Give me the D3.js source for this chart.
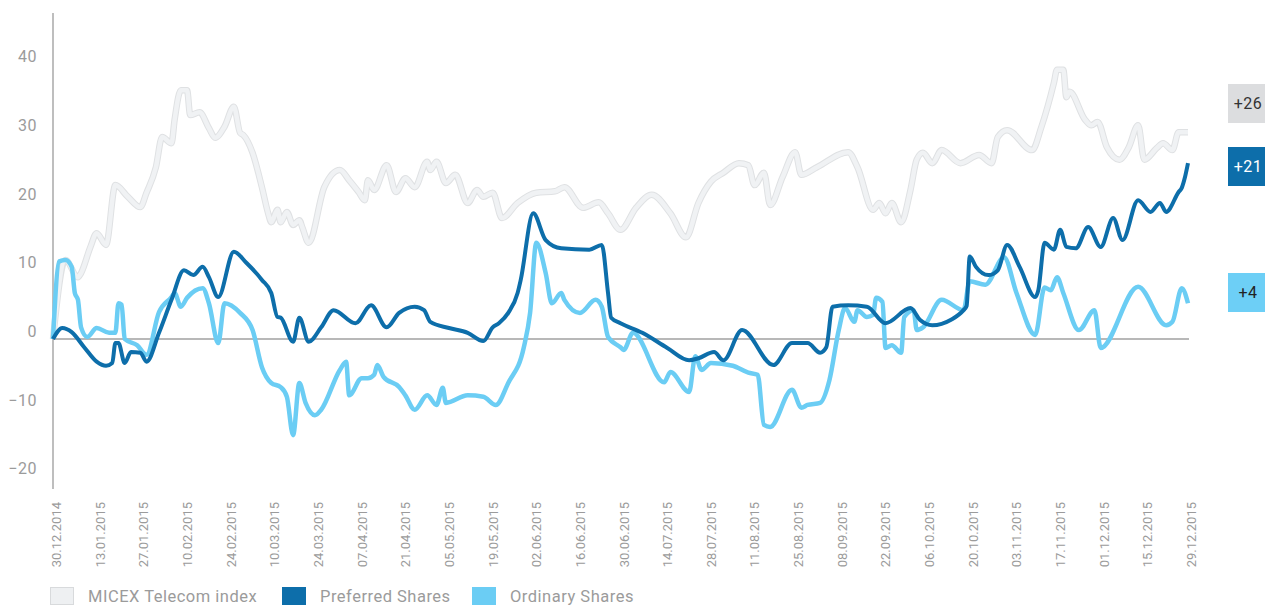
<!DOCTYPE html>
<html lang="en">
    <head>
        <meta charset="utf-8">
        <title>MICEX Telecom vs shares</title>
        <script type="text/javascript" src="https://cdn.jsdelivr.net/npm/d3@7"></script>
        <style>
            body { margin: 0; background: #fff; }
            text { font-family: Roboto, "Noto Sans", sans-serif; }
        </style>
    </head>
    <body>
        <script type="text/javascript">
            // tick labels
            var xTicks = ["30.12.2014", "13.01.2015", "27.01.2015", "10.02.2015", "24.02.2015",
                "10.03.2015", "24.03.2015", "07.04.2015", "21.04.2015", "05.05.2015", "19.05.2015",
                "02.06.2015", "16.06.2015", "30.06.2015", "14.07.2015", "28.07.2015", "11.08.2015",
                "25.08.2015", "08.09.2015", "22.09.2015", "06.10.2015", "20.10.2015", "03.11.2015",
                "17.11.2015", "01.12.2015", "15.12.2015", "29.12.2015"];
            var yTicks = [-20, -10, 0, 10, 20, 30, 40];

            // MICEX Telecom index, % change
            var micexDates = ["30.12.2014", "03.01.2015", "07.01.2015", "08.01.2015", "11.01.2015",
                "13.01.2015", "16.01.2015", "19.01.2015", "23.01.2015", "27.01.2015", "29.01.2015",
                "01.02.2015", "03.02.2015", "06.02.2015", "07.02.2015", "09.02.2015", "11.02.2015",
                "12.02.2015", "15.02.2015", "18.02.2015", "20.02.2015", "23.02.2015", "26.02.2015",
                "28.02.2015", "01.03.2015", "04.03.2015", "07.03.2015", "09.03.2015", "10.03.2015",
                "12.03.2015", "13.03.2015", "15.03.2015", "17.03.2015", "19.03.2015", "20.03.2015",
                "22.03.2015", "27.03.2015", "01.04.2015", "04.04.2015", "07.04.2015", "09.04.2015",
                "10.04.2015", "12.04.2015", "16.04.2015", "19.04.2015", "22.04.2015", "25.04.2015",
                "29.04.2015", "30.04.2015", "02.05.2015", "05.05.2015", "08.05.2015", "12.05.2015",
                "15.05.2015", "17.05.2015", "20.05.2015", "23.05.2015", "28.05.2015", "03.06.2015",
                "09.06.2015", "12.06.2015", "18.06.2015", "23.06.2015", "26.06.2015", "30.06.2015",
                "05.07.2015", "10.07.2015", "16.07.2015", "21.07.2015", "25.07.2015", "29.07.2015",
                "02.08.2015", "07.08.2015", "10.08.2015", "12.08.2015", "15.08.2015", "17.08.2015",
                "21.08.2015", "25.08.2015", "27.08.2015", "01.09.2015", "11.09.2015", "14.09.2015",
                "19.09.2015", "21.09.2015", "23.09.2015", "25.09.2015", "28.09.2015", "01.10.2015",
                "03.10.2015", "05.10.2015", "08.10.2015", "11.10.2015", "17.10.2015", "23.10.2015",
                "27.10.2015", "29.10.2015", "01.11.2015", "09.11.2015", "12.11.2015", "16.11.2015",
                "17.11.2015", "19.11.2015", "20.11.2015", "21.11.2015", "26.11.2015", "28.11.2015",
                "30.11.2015", "03.12.2015", "07.12.2015", "10.12.2015", "13.12.2015", "15.12.2015",
                "19.12.2015", "21.12.2015", "24.12.2015", "26.12.2015", "29.12.2015"];
            var micexValues = [0, 11.5, 9.0, 9.6, 13.4,
                15.4, 13.7, 22.4, 20.7, 19.2, 21.3,
                25.0, 29.4, 28.5, 31.9, 36.2, 36.2,
                32.6, 33.0, 30.7, 29.3, 30.9, 33.8,
                30.0, 29.7, 27.1, 22.1, 18.3, 17.0,
                18.8, 17.0, 18.5, 16.6, 17.3, 16.2,
                14.0, 22.1, 24.6, 23.1, 21.4, 20.2,
                23.1, 21.7, 25.3, 21.4, 23.4, 22.1,
                25.8, 24.6, 25.8, 22.7, 23.9, 19.8,
                21.7, 20.7, 21.3, 17.6, 19.8, 21.3,
                21.5, 22.1, 19.1, 19.9, 18.3, 15.9,
                19.1, 21.0, 18.3, 14.8, 19.8, 22.9,
                24.2, 25.6, 25.3, 22.4, 24.2, 19.5,
                23.6, 27.2, 23.9, 25.0, 27.2, 25.0,
                18.8, 19.8, 18.3, 19.8, 17.0, 21.7,
                26.1, 27.1, 25.6, 27.5, 25.6, 26.8,
                25.6, 29.4, 30.4, 27.5, 30.9, 37.3,
                39.2, 39.2, 35.2, 36.0, 31.9, 31.1,
                31.6, 27.9, 26.1, 27.9, 31.1, 26.1,
                27.8, 28.5, 27.5, 30.1, 30.1];

            // Preferred shares, % change
            var prefDates = ["30.12.2014", "02.01.2015", "05.01.2015", "09.01.2015", "13.01.2015",
                "16.01.2015", "18.01.2015", "19.01.2015", "20.01.2015", "22.01.2015", "24.01.2015",
                "27.01.2015", "29.01.2015", "02.02.2015", "06.02.2015", "10.02.2015", "13.02.2015",
                "16.02.2015", "18.02.2015", "21.02.2015", "26.02.2015", "02.03.2015", "07.03.2015",
                "10.03.2015", "12.03.2015", "13.03.2015", "17.03.2015", "19.03.2015", "22.03.2015",
                "26.03.2015", "30.03.2015", "06.04.2015", "11.04.2015", "16.04.2015", "20.04.2015",
                "25.04.2015", "28.04.2015", "30.04.2015", "06.05.2015", "12.05.2015", "17.05.2015",
                "20.05.2015", "22.05.2015", "25.05.2015", "28.05.2015", "29.05.2015", "02.06.2015",
                "06.06.2015", "11.06.2015", "20.06.2015", "24.06.2015", "26.06.2015", "27.06.2015",
                "30.06.2015", "07.07.2015", "15.07.2015", "22.07.2015", "25.07.2015", "30.07.2015",
                "02.08.2015", "08.08.2015", "18.08.2015", "24.08.2015", "29.08.2015", "02.09.2015",
                "04.09.2015", "06.09.2015", "11.09.2015", "17.09.2015", "23.09.2015", "01.10.2015",
                "04.10.2015", "08.10.2015", "14.10.2015", "18.10.2015", "19.10.2015", "20.10.2015",
                "22.10.2015", "26.10.2015", "29.10.2015", "01.11.2015", "05.11.2015", "10.11.2015",
                "11.11.2015", "13.11.2015", "16.11.2015", "18.11.2015", "20.11.2015", "23.11.2015",
                "27.11.2015", "01.12.2015", "05.12.2015", "08.12.2015", "13.12.2015", "17.12.2015",
                "20.12.2015", "22.12.2015", "26.12.2015", "27.12.2015", "28.12.2015", "29.12.2015"];
            var prefValues = [0, 1.6, 1.0, -1.2, -3.3,
                -3.9, -3.5, -0.6, -0.6, -3.5, -1.9,
                -2.0, -3.3, 0.9, 5.7, 10.0, 9.3,
                10.5, 9.0, 6.1, 12.7, 11.1, 8.6,
                6.7, 3.2, 3.1, -0.4, 3.1, -0.4,
                1.7, 4.2, 2.3, 4.9, 1.7, 3.8,
                4.7, 4.2, 2.5, 1.6, 0.9, -0.3,
                1.7, 2.3, 3.8, 6.7, 8.6, 18.3,
                14.4, 13.2, 13.0, 13.7, 6.7, 3.1,
                2.3, 0.9, -1.3, -3.1, -2.8, -1.9,
                -3.1, 1.3, -3.8, -0.6, -0.6, -2.0,
                -1.2, 4.7, 4.9, 4.7, 2.3, 4.5,
                2.8, 2.0, 2.8, 4.2, 4.8, 12.0,
                10.5, 9.3, 10.0, 13.7, 10.5, 6.1,
                7.1, 14.0, 13.0, 15.9, 13.4, 13.2,
                16.3, 13.4, 17.6, 14.4, 20.2, 18.5,
                19.8, 18.5, 21.4, 22.0, 23.5, 25.6];

            // Ordinary shares, % change
            var ordDates = ["30.12.2014", "01.01.2015", "03.01.2015", "05.01.2015", "06.01.2015",
                "07.01.2015", "08.01.2015", "10.01.2015", "13.01.2015", "17.01.2015", "19.01.2015",
                "20.01.2015", "21.01.2015", "22.01.2015", "26.01.2015", "29.01.2015", "02.02.2015",
                "06.02.2015", "07.02.2015", "09.02.2015", "11.02.2015", "16.02.2015", "18.02.2015",
                "21.02.2015", "23.02.2015", "28.02.2015", "04.03.2015", "07.03.2015", "10.03.2015",
                "13.03.2015", "15.03.2015", "17.03.2015", "19.03.2015", "21.03.2015", "24.03.2015",
                "26.03.2015", "01.04.2015", "03.04.2015", "04.04.2015", "08.04.2015", "10.04.2015",
                "12.04.2015", "13.04.2015", "15.04.2015", "20.04.2015", "22.04.2015", "25.04.2015",
                "29.04.2015", "02.05.2015", "04.05.2015", "05.05.2015", "12.05.2015", "17.05.2015",
                "21.05.2015", "25.05.2015", "30.05.2015", "01.06.2015", "03.06.2015", "06.06.2015",
                "08.06.2015", "11.06.2015", "12.06.2015", "17.06.2015", "22.06.2015", "24.06.2015",
                "26.06.2015", "30.06.2015", "01.07.2015", "04.07.2015", "14.07.2015", "16.07.2015",
                "22.07.2015", "24.07.2015", "26.07.2015", "29.07.2015", "05.08.2015", "10.08.2015",
                "13.08.2015", "15.08.2015", "17.08.2015", "24.08.2015", "27.08.2015", "29.08.2015",
                "02.09.2015", "05.09.2015", "08.09.2015", "10.09.2015", "13.09.2015", "14.09.2015",
                "17.09.2015", "19.09.2015", "20.09.2015", "22.09.2015", "23.09.2015", "25.09.2015",
                "28.09.2015", "29.09.2015", "02.10.2015", "03.10.2015", "05.10.2015", "11.10.2015",
                "18.10.2015", "20.10.2015", "25.10.2015", "31.10.2015", "04.11.2015", "10.11.2015",
                "13.11.2015", "15.11.2015", "17.11.2015", "19.11.2015", "24.11.2015", "29.11.2015",
                "01.12.2015", "13.12.2015", "22.12.2015", "24.12.2015", "27.12.2015", "29.12.2015"];
            var ordValues = [0, 11.3, 11.5, 10.5, 6.7,
                5.7, 1.7, 0.3, 1.6, 0.9, 0.9,
                5.2, 5.0, 0.0, -0.9, -2.3, 3.9,
                6.1, 6.7, 4.7, 6.0, 7.4, 5.2,
                -0.6, 5.2, 3.8, 1.3, -4.1, -6.4,
                -7.0, -8.4, -14.0, -6.4, -9.3, -11.1,
                -10.3, -4.5, -3.3, -8.2, -5.7, -5.7,
                -5.2, -3.8, -5.5, -7.0, -8.2, -10.3,
                -8.2, -9.6, -7.1, -9.3, -8.2, -8.4,
                -9.6, -6.4, -1.2, 3.8, 14.0, 9.6,
                5.2, 6.7, 5.7, 3.8, 5.7, 4.7,
                0.3, -1.2, -1.6, 0.9, -6.3, -4.8,
                -7.7, -2.5, -4.5, -3.5, -3.9, -4.9,
                -5.2, -12.5, -12.8, -7.4, -10.0, -9.6,
                -9.3, -6.0, 1.3, 4.5, 2.5, 4.2,
                3.2, 3.5, 6.0, 5.4, -1.3, -0.9,
                -2.0, 3.2, 4.2, 1.3, 1.7, 5.7,
                4.2, 8.4, 7.9, 11.9, 6.7, 0.6,
                7.5, 7.1, 9.0, 6.7, 1.3, 4.2,
                -1.3, 7.6, 2.0, 2.5, 7.4, 5.2];

            // end-of-year badges
            var badgeLabels = ["+26", "+21", "+4"];
            var legendLabels = ["MICEX Telecom index", "Preferred Shares", "Ordinary Shares"];

            var w = 1265;
            var h = 606;
            var parse = d3.timeParse("%d.%m.%Y");

            function zip(dates, values) {
                return dates.map(function(d, i) {
                    return { date: parse(d), value: values[i] };
                });
            }
            var micex = zip(micexDates, micexValues);
            var pref = zip(prefDates, prefValues);
            var ord = zip(ordDates, ordValues);

            var x = d3.scaleTime()
                .domain([parse("30.12.2014"), parse("29.12.2015")])
                .range([53, 1188]);
            var y = d3.scaleLinear()
                .domain([-20, 40])
                .range([339 + 20 * 6.87, 339 - 40 * 6.87]);

            var line = d3.line()
                .x(function(d) { return x(d.date); })
                .y(function(d) { return y(d.value); })
                .curve(d3.curveMonotoneX);

            var svg = d3.select("body").append("svg")
                .attr("width", w)
                .attr("height", h);

            // y axis line
            svg.append("line")
                .attr("x1", 53).attr("x2", 53)
                .attr("y1", 13).attr("y2", 489)
                .attr("stroke", "#a8a8a8")
                .attr("stroke-width", 1.5);

            // y labels sit a little above their values
            svg.selectAll("text.ytick")
                .data(yTicks)
                .enter()
                .append("text")
                .attr("class", "ytick")
                .attr("x", 37)
                .attr("y", function(d) { return y(d) - 2; })
                .attr("text-anchor", "end")
                .attr("font-size", "16px")
                .attr("letter-spacing", "0.5px")
                .attr("fill", "#9b9b9b")
                .text(function(d) { return d === 0 ? "0" : (d < 0 ? "\u2212" + Math.abs(d) : d); });

            // x labels, rotated
            svg.selectAll("text.xtick")
                .data(xTicks)
                .enter()
                .append("text")
                .attr("class", "xtick")
                .attr("transform", function(d) {
                    return "translate(" + (x(parse(d)) + 8) + ",502) rotate(-90)";
                })
                .attr("text-anchor", "end")
                .attr("font-size", "13px")
                .attr("fill", "#9b9b9b")
                .text(function(d) { return d; });

            // MICEX drawn as a light band with a soft outline
            svg.append("path")
                .datum(micex)
                .attr("d", line)
                .attr("fill", "none")
                .attr("stroke", "#dfe1e3")
                .attr("stroke-width", 6.5)
                .attr("stroke-linejoin", "round");
            svg.append("path")
                .datum(micex)
                .attr("d", line)
                .attr("fill", "none")
                .attr("stroke", "#f0f2f4")
                .attr("stroke-width", 4.5)
                .attr("stroke-linejoin", "round");

            // zero line
            svg.append("line")
                .attr("x1", 53).attr("x2", 1189)
                .attr("y1", y(0)).attr("y2", y(0))
                .attr("stroke", "#a0a0a0")
                .attr("stroke-width", 1.5);

            svg.append("path")
                .datum(ord)
                .attr("d", line)
                .attr("fill", "none")
                .attr("stroke", "#6bcdf4")
                .attr("stroke-width", 4.5)
                .attr("stroke-linejoin", "round");

            svg.append("path")
                .datum(pref)
                .attr("d", line)
                .attr("fill", "none")
                .attr("stroke", "#0d6eaa")
                .attr("stroke-width", 4)
                .attr("stroke-linejoin", "round");

            // badges on the right
            var badgeFill = ["#dcdddf", "#0d6eaa", "#6dcff6"];
            var badgeText = ["#333333", "#ffffff", "#222222"];
            var badgeTop = [84, 147, 273];
            var badges = svg.selectAll("g.badge")
                .data(badgeLabels)
                .enter()
                .append("g")
                .attr("class", "badge")
                .attr("transform", function(d, i) { return "translate(1228," + badgeTop[i] + ")"; });
            badges.append("rect")
                .attr("width", 40)
                .attr("height", 39)
                .attr("fill", function(d, i) { return badgeFill[i]; });
            badges.append("text")
                .attr("x", 20)
                .attr("y", 25)
                .attr("text-anchor", "middle")
                .attr("font-size", "16px")
                .attr("letter-spacing", "0.5px")
                .attr("fill", function(d, i) { return badgeText[i]; })
                .text(function(d) { return d; });

            // legend
            var legendBox = [50, 282, 472];
            var legendFill = ["#eef0f2", "#0d6eaa", "#6bcdf4"];
            var legendStroke = ["#d8dadc", "#0d6eaa", "#6bcdf4"];
            var legend = svg.selectAll("g.legend")
                .data(legendLabels)
                .enter()
                .append("g")
                .attr("class", "legend")
                .attr("transform", function(d, i) { return "translate(" + legendBox[i] + ",587)"; });
            legend.append("rect")
                .attr("x", 0.5)
                .attr("y", 0.5)
                .attr("width", 23)
                .attr("height", 17)
                .attr("fill", function(d, i) { return legendFill[i]; })
                .attr("stroke", function(d, i) { return legendStroke[i]; });
            legend.append("text")
                .attr("x", 38)
                .attr("y", 15)
                .attr("font-size", "16.5px")
                .attr("letter-spacing", "0.5px")
                .attr("fill", "#9b9b9b")
                .text(function(d) { return d; });
        </script>
    </body>
</html>
